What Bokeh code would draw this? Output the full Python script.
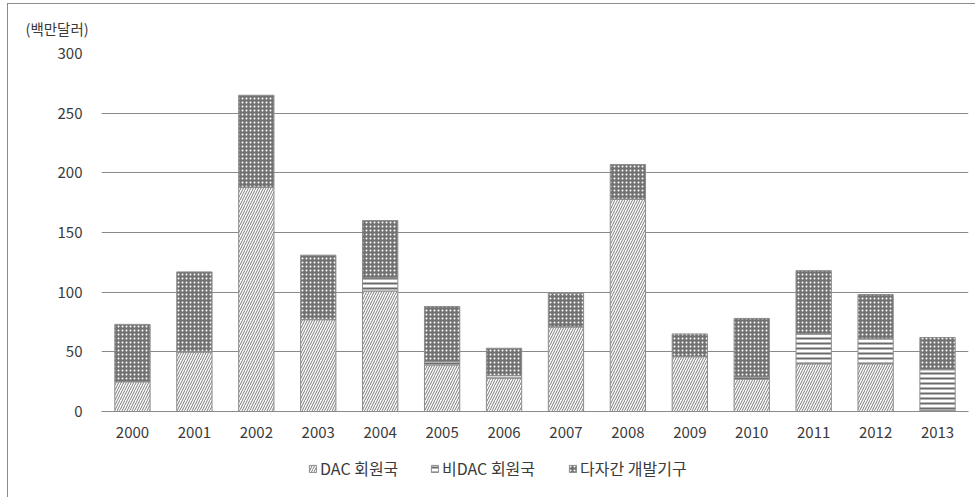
from bokeh.plotting import figure
from bokeh.layouts import column
from bokeh.models import Range1d, FactorRange, Legend, LegendItem, SingleIntervalTicker, ColumnDataSource
from bokeh.embed import file_html
from bokeh.resources import INLINE

years = ["2000", "2001", "2002", "2003", "2004", "2005", "2006",
         "2007", "2008", "2009", "2010", "2011", "2012", "2013"]
dac = [25, 50, 188, 77, 101, 39, 28, 71, 178, 46, 27, 40, 40, 1]
non_dac = [0, 0, 0, 0, 11, 3, 2, 0, 0, 0, 2, 25, 21, 34]
multi = [48, 67, 77, 54, 48, 46, 23, 28, 29, 19, 49, 53, 37, 27]
series_names = ["DAC 회원국", "비DAC 회원국", "다자간 개발기구"]
unit_label = "(백만달러)"

FONT = "Noto Sans CJK KR"
TXT = "#3a3a3a"
fills = ["white", "white", "#727272"]
hatches = ["/", "-", "."]
hatch_colors = ["#7a7a7a", "#6a6a6a", "white"]
hatch_scales = [5, 5, 4]
hatch_weights = [1, 2, 1.3]

p = figure(width=978, height=455, x_range=FactorRange(*years), y_range=Range1d(0, 300),
           output_backend="svg", toolbar_location=None,
           min_border_left=101, min_border_right=10, min_border_top=53, min_border_bottom=44,
           title=unit_label)
p.border_fill_color = None

p.title.align = "left"
p.title.offset = -76
p.title.text_font = FONT
p.title.text_font_size = "14.5px"
p.title.text_font_style = "normal"
p.title.text_color = TXT
p.title.standoff = 29

p.outline_line_color = None
p.xgrid.grid_line_color = None
p.ygrid.grid_line_color = "#8a8a8a"
p.ygrid.grid_line_width = 1
p.yaxis.ticker = SingleIntervalTicker(interval=50)
p.yaxis.axis_line_color = None
p.yaxis.major_tick_line_color = None
p.yaxis.minor_tick_line_color = None
p.yaxis.major_tick_out = 0
p.yaxis.major_label_standoff = 15
p.xaxis.axis_line_color = "#8a8a8a"
p.xaxis.major_tick_line_color = None
p.xaxis.minor_tick_line_color = None
p.xaxis.major_tick_out = 0
p.xaxis.major_label_standoff = 15
for ax in (p.xaxis, p.yaxis):
    ax.major_label_text_font = FONT
    ax.major_label_text_font_size = "15px"
    ax.major_label_text_color = TXT

data = dict(years=years, dac=dac, non_dac=non_dac, multi=multi)
p.vbar_stack(["dac", "non_dac", "multi"], x="years", width=0.57, source=data,
             fill_color=fills, hatch_pattern=hatches, hatch_color=hatch_colors,
             hatch_scale=hatch_scales, hatch_weight=hatch_weights,
             line_color="#8c8c8c", line_width=1)

# legend strip below the chart: one single-item legend per series
lg = figure(width=978, height=42, x_range=Range1d(0, 978), y_range=Range1d(0, 42),
            output_backend="svg", toolbar_location=None, x_axis_type=None, y_axis_type=None,
            min_border_left=0, min_border_right=0, min_border_top=0, min_border_bottom=0)
lg.border_fill_color = None
lg.background_fill_color = None
lg.outline_line_color = None
lg.xgrid.grid_line_color = None
lg.ygrid.grid_line_color = None
dummy = ColumnDataSource(dict(x=[-500], top=[-500]))
legend_x = [207, 329, 467]
for name, fc, hp, hc, hs, hw, lx in zip(series_names, fills, hatches, hatch_colors,
                                        hatch_scales, hatch_weights, legend_x):
    r = lg.vbar(x="x", top="top", width=1, source=dummy, fill_color=fc, hatch_pattern=hp,
                hatch_color=hc, hatch_scale=hs, hatch_weight=hw, line_color="#8c8c8c")
    leg = Legend(items=[LegendItem(label=name, renderers=[r])], orientation="horizontal",
                 location=(lx, 17),
                 label_text_font=FONT, label_text_font_size="16px", label_text_color=TXT,
                 glyph_width=9, glyph_height=9, label_standoff=3,
                 border_line_color=None, background_fill_alpha=0, margin=0, padding=5)
    lg.add_layout(leg, "center")

layout = column(p, lg, spacing=0)
layout.styles = {
    "background-image": "linear-gradient(#8c8c8c, #8c8c8c), linear-gradient(#8c8c8c, #8c8c8c)",
    "background-size": "1px 494px, 968px 1px",
    "background-position": "7px 3px, 7px 3px",
    "background-repeat": "no-repeat",
}

open("out.html", "w").write(file_html(layout, INLINE))
